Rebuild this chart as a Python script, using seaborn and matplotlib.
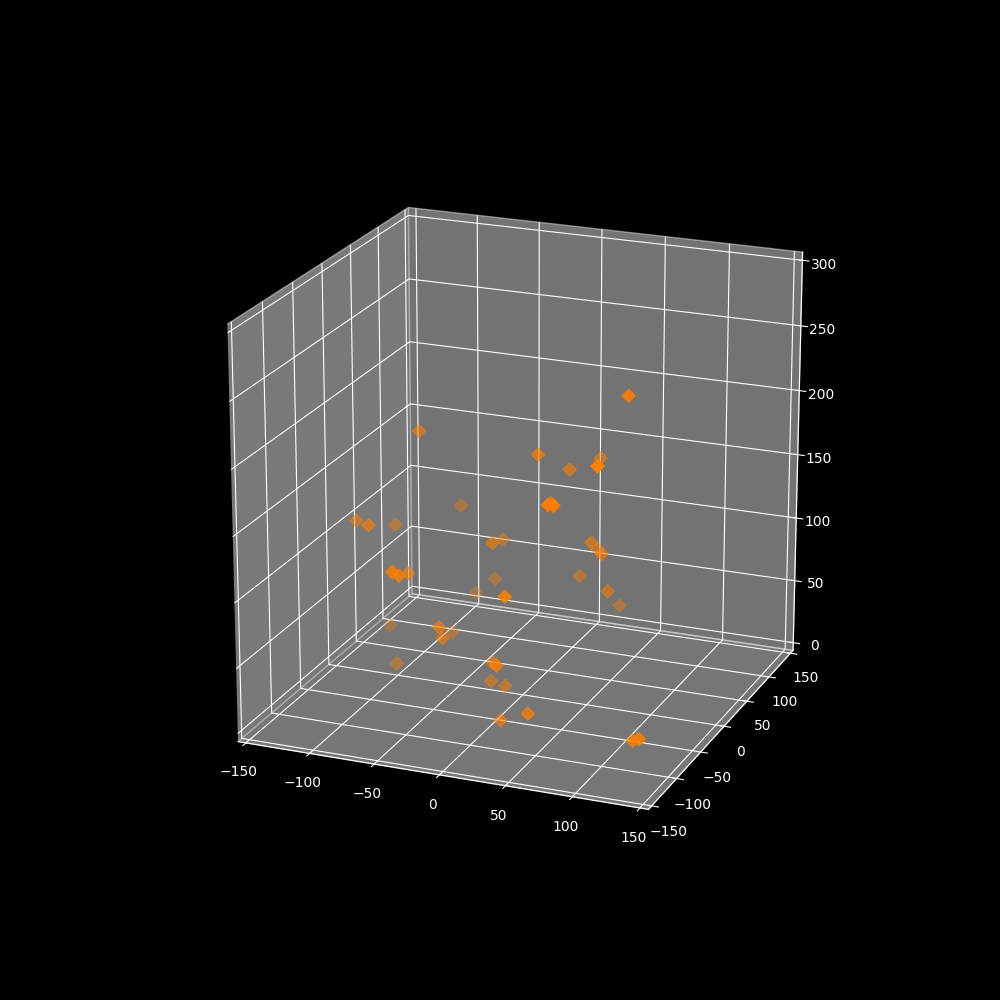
import matplotlib
matplotlib.use("Agg")
import matplotlib.pyplot as plt
import seaborn as sns
import pandas as pd

x_values = [100, -81, 22, 31, 40, 107, -76, 71, 75, 32, -126, -93, -118, -13, -37, 43, 38, 61, -46, -41, -68, 24, -54, 56, 41, 39, -75, -129, -33, -47, -78, -100, -13, 22, -23, -9, 51, 11, 120, 139]
y_values = [-52, 0, -26, 13, 52, -130, 65, -130, -130, -26, -13, -65, 39, -26, 52, 26, 52, 0, -130, -130, -52, 52, 78, 26, 91, -130, 91, 52, -78, -39, 52, -2, -26, -104, -5, -12, -117, -70, -91, -130]
z_values = [254, 188, 192, 169, 166, 229, 109, 196, 196, 157, 117, 136, 97, 120, 92, 110, 95, 113, 130, 128, 98, 72, 49, 74, 37, 124, 30, 10, 71, 46, 12, 4, 27, 60, 3, 4, 33, 3, 13, 33]

df = pd.DataFrame({"x": x_values, "y": y_values, "z": z_values})
orange = sns.color_palette(["#ff7f00"])[0]

plt.style.use("dark_background")
plt.rcParams["axes3d.automargin"] = True

fig = plt.figure(figsize=(10, 10), dpi=100)
ax = fig.add_subplot(111, projection="3d")
ax.scatter(df["x"], df["y"], df["z"], marker="D", s=50, color=orange, linewidths=0.5)
ax.set_xlim(-150, 150)
ax.set_ylim(-150, 150)
ax.set_zlim(0, 300)
ax.set_box_aspect((1, 1, 1), zoom=0.947)
ax.view_init(elev=20, azim=-68)
fig.savefig("out.png", dpi=100)
